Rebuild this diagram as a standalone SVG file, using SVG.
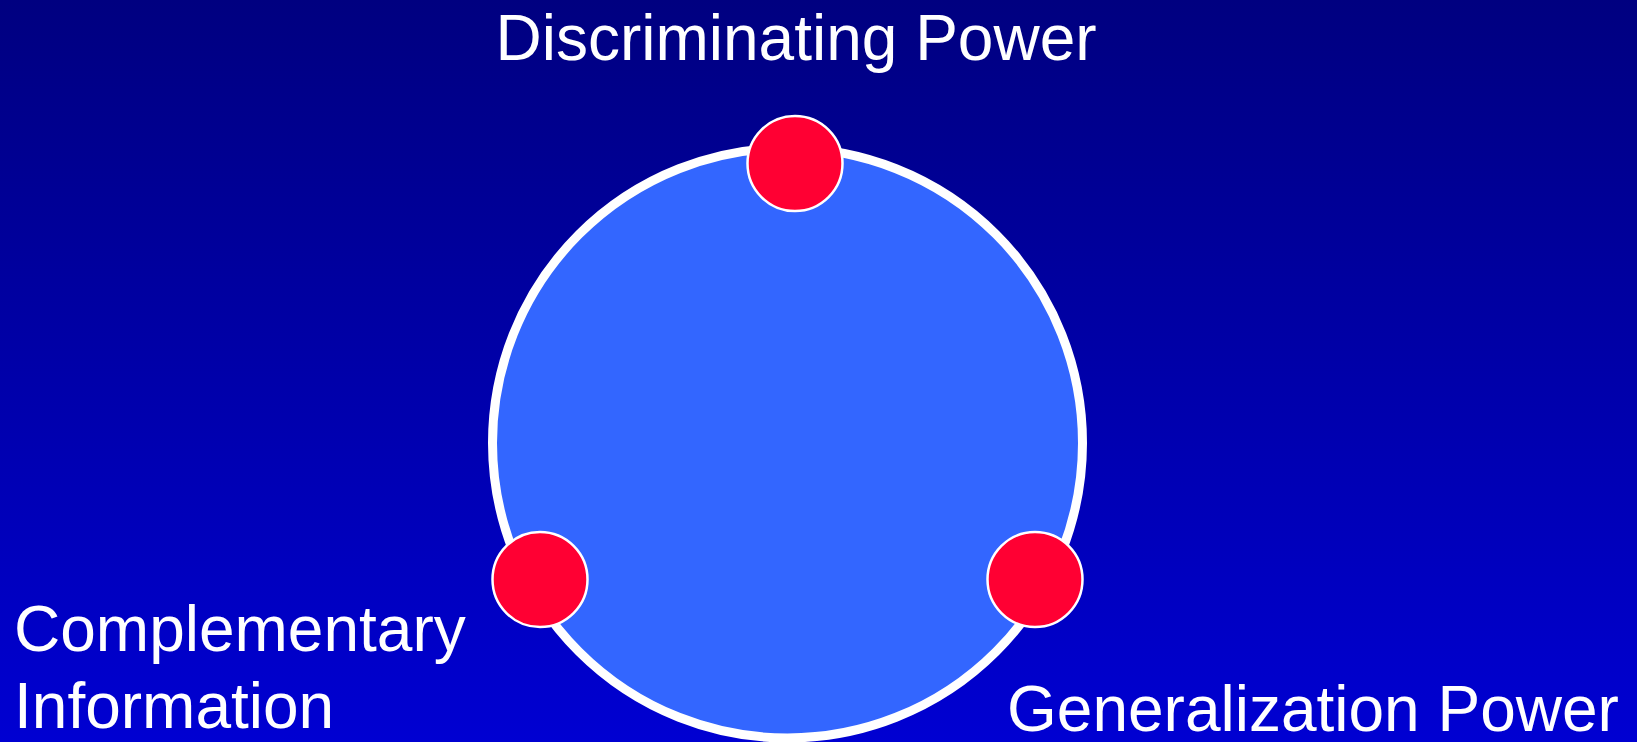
<svg xmlns="http://www.w3.org/2000/svg" width="1637" height="742" viewBox="0 0 1637 742">
<defs>
<linearGradient id="bg" x1="0" y1="0" x2="0" y2="1">
<stop offset="0" stop-color="#000080"/>
<stop offset="1" stop-color="#0000D2"/>
</linearGradient>
<style>
.lbl{font-family:"Liberation Sans",Arial,sans-serif;font-size:64px;fill:#FFFFFF}
.dot{fill:#FF0033;stroke:#FFFFFF;stroke-width:2.5}
</style>
</defs>
<rect x="0" y="0" width="1637" height="742" fill="url(#bg)"/>
<g id="ring">
<circle cx="787.5" cy="443" r="295" fill="#3366FF" stroke="#FFFFFF" stroke-width="9"/>
</g>
<g id="connectors"></g>
<g id="node-discriminating">
<circle class="dot" cx="795" cy="163.5" r="47.5"/>
<text class="lbl" x="796" y="60" text-anchor="middle">Discriminating Power</text>
</g>
<g id="node-complementary">
<circle class="dot" cx="540" cy="579.5" r="47.5"/>
<text class="lbl" x="14" y="651">Complementary</text>
<text class="lbl" x="14" y="728">Information</text>
</g>
<g id="node-generalization">
<circle class="dot" cx="1035" cy="579.5" r="47.5"/>
<text class="lbl" x="1007" y="731">Generalization Power</text>
</g>
</svg>
